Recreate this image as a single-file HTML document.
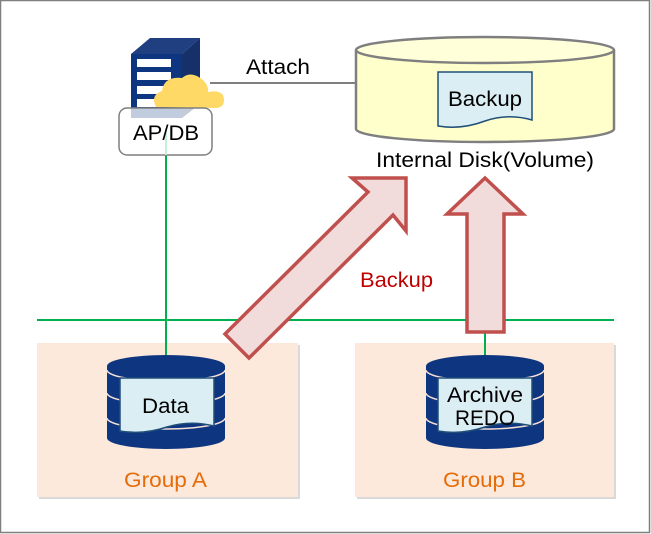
<!DOCTYPE html>
<html><head><style>
html,body{margin:0;padding:0;background:#fff;}
svg{display:block;font-family:"Liberation Sans","DejaVu Sans",sans-serif;}
</style></head><body>
<svg width="651" height="534" viewBox="0 0 651 534" xmlns="http://www.w3.org/2000/svg">
<rect x="0.5" y="0.5" width="649" height="532" fill="#fff" stroke="#7f7f7f" stroke-width="1.5"/>
<!-- groups -->
<rect x="39" y="345" width="261" height="154" fill="#d9d9d9"/>
<rect x="37" y="343" width="261" height="154" fill="#fde9db"/>
<rect x="357" y="345" width="259" height="154" fill="#d9d9d9"/>
<rect x="355" y="343" width="259" height="154" fill="#fde9db"/>
<text x="124" y="487" font-size="21" fill="#e46c0a" textLength="83" lengthAdjust="spacingAndGlyphs">Group A</text>
<text x="443" y="487" font-size="21" fill="#e46c0a" textLength="83" lengthAdjust="spacingAndGlyphs">Group B</text>
<!-- green lines -->
<line x1="37" y1="320" x2="614" y2="320" stroke="#00b050" stroke-width="2"/>
<line x1="166" y1="150" x2="166" y2="358" stroke="#00b050" stroke-width="2"/>
<line x1="485" y1="320" x2="485" y2="358" stroke="#00b050" stroke-width="2"/>
<!-- attach -->
<line x1="210" y1="83" x2="360" y2="83" stroke="#7f7f7f" stroke-width="2"/>
<text x="246" y="74" font-size="21" fill="#000" textLength="64" lengthAdjust="spacingAndGlyphs">Attach</text>
<!-- internal disk -->
<path d="M356,50 L356,129 A129,13 0 0 0 614,129 L614,50" fill="#ffffcc" stroke="#7f7f7f" stroke-width="2.5"/>
<ellipse cx="485" cy="50" rx="129" ry="13" fill="#ffffd9" stroke="#7f7f7f" stroke-width="2.5"/>
<path d="M438,72 L532,72 L532,120 Q508,113 485,121 Q461,130 438,126 Z" fill="#dbeef4" stroke="#1f4e79" stroke-width="1.5"/>
<text x="448" y="106" font-size="21" textLength="74" lengthAdjust="spacingAndGlyphs">Backup</text>
<text x="376" y="167" font-size="21" textLength="218" lengthAdjust="spacingAndGlyphs">Internal Disk(Volume)</text>
<!-- server -->
<polygon points="131,54 150,38 200,38 182,54" fill="#1f3f80"/>
<polygon points="182,54 200,38 200,104 182,118" fill="#16306a"/>
<rect x="131" y="54" width="51" height="64" fill="#0e3580"/>
<rect x="137" y="59" width="34" height="8" fill="#fff"/>
<rect x="137" y="72" width="34" height="8" fill="#fff"/>
<rect x="137" y="86" width="34" height="8" fill="#fff"/>
<rect x="137" y="99" width="34" height="8" fill="#fff"/>
<circle cx="173" cy="61" r="2" fill="#0e3580"/>
<circle cx="173" cy="75" r="2" fill="#0e3580"/>
<path d="M156,107 Q150,95 162,91 Q164,76 182,78 Q191,70 203,80 Q209,86 208,92 Q224,89 224,100 Q224,108 215,108 Z" fill="#ffd966"/>
<rect x="119" y="108" width="93" height="47" rx="8" fill="rgba(255,255,255,0.75)" stroke="#7f7f7f" stroke-width="1.5"/>
<line x1="166" y1="128" x2="166" y2="155" stroke="#c6efd8" stroke-width="2"/>
<text x="133" y="140" font-size="21" textLength="66" lengthAdjust="spacingAndGlyphs">AP/DB</text>
<!-- DB A -->
<g>
<path d="M107,366 L107,438 A59,11 0 0 0 225,438 L225,366 Z" fill="#0e3580"/>
<ellipse cx="166" cy="366" rx="59" ry="11" fill="#0e3580"/>
<path d="M107,370 A59,11 0 0 0 225,370" fill="none" stroke="#f5e0d5" stroke-width="1.5"/>
<path d="M107,393 A59,11 0 0 0 225,393" fill="none" stroke="#f5e0d5" stroke-width="1.5"/>
<path d="M107,418 A59,11 0 0 0 225,418" fill="none" stroke="#f5e0d5" stroke-width="1.5"/>
<path d="M120,378 L214,378 L214,426 Q190,420 167,427 Q143,435 120,431 Z" fill="#dbeef4" stroke="#1f4e79" stroke-width="1.5"/>
<text x="142" y="413" font-size="21" textLength="47" lengthAdjust="spacingAndGlyphs">Data</text>
</g>
<!-- DB B -->
<g>
<path d="M426,366 L426,438 A59,11 0 0 0 544,438 L544,366 Z" fill="#0e3580"/>
<ellipse cx="485" cy="366" rx="59" ry="11" fill="#0e3580"/>
<path d="M426,370 A59,11 0 0 0 544,370" fill="none" stroke="#f5e0d5" stroke-width="1.5"/>
<path d="M426,393 A59,11 0 0 0 544,393" fill="none" stroke="#f5e0d5" stroke-width="1.5"/>
<path d="M426,418 A59,11 0 0 0 544,418" fill="none" stroke="#f5e0d5" stroke-width="1.5"/>
<path d="M438,378 L532,378 L532,426 Q508,420 485,427 Q461,435 438,431 Z" fill="#dbeef4" stroke="#1f4e79" stroke-width="1.5"/>
<text x="447" y="402" font-size="21" textLength="76" lengthAdjust="spacingAndGlyphs">Archive</text>
<text x="455" y="425" font-size="21" textLength="60" lengthAdjust="spacingAndGlyphs">REDO</text>
</g>
<!-- arrows -->
<polygon points="406,178 352,178 368,192 225,334 249,358 393,215 406,231" fill="#f2dcdb" stroke="#c0504d" stroke-width="3.5" stroke-linejoin="miter"/>
<polygon points="485,178 447,214 467,214 467,332 504,332 504,214 523,214" fill="#f2dcdb" stroke="#c0504d" stroke-width="3.5"/>
<text x="360" y="287" font-size="21" fill="#c00000" textLength="73" lengthAdjust="spacingAndGlyphs">Backup</text>
</svg>
</body></html>
